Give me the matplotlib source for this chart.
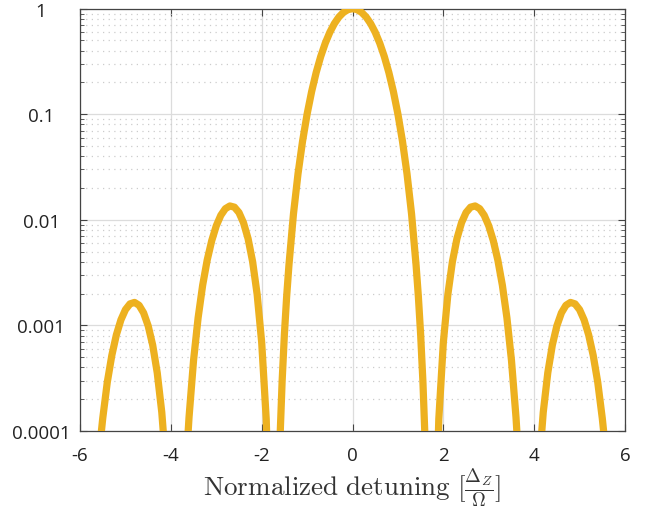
import numpy as np
import matplotlib
matplotlib.use("Agg")
import matplotlib.pyplot as plt
from matplotlib.ticker import LogLocator, FixedLocator, NullFormatter

plt.rcParams["mathtext.fontset"] = "cm"

# values (positive half, curve is symmetric about 0)
main_x = [0.0, 0.1, 0.2, 0.3, 0.4, 0.5, 0.6, 0.7, 0.8, 0.9, 1.0, 1.1, 1.2,
          1.3, 1.4, 1.45, 1.5, 1.55, 1.6, 1.65]
main_y = [1.0, 0.9802, 0.9228, 0.8337, 0.7217, 0.5972, 0.4711, 0.3525, 0.2488,
          0.1642, 0.1002, 0.0556, 0.02731, 0.01139, 0.003714, 0.00188,
          0.000822, 0.0002945, 7.73e-5, 1.08e-5]

lobe1_x = [1.8, 1.9, 2.0, 2.1, 2.2, 2.3, 2.4, 2.5, 2.6, 2.7, 2.8, 2.9, 3.0,
           3.1, 3.2, 3.3, 3.4, 3.5, 3.6, 3.65, 3.7]
lobe1_y = [4.12e-6, 1.295e-4, 6.9e-4, 1.969e-3, 4.024e-3, 6.645e-3, 9.374e-3,
           0.01172, 0.013183, 0.013535, 0.012752, 0.011041, 8.774e-3,
           6.349e-3, 4.154e-3, 2.399e-3, 1.179e-3, 4.68e-4, 1.344e-4, 6.0e-5,
           2.1e-5]

lobe2_x = [4.0, 4.1, 4.2, 4.3, 4.4, 4.5, 4.6, 4.7, 4.8, 4.9, 5.0, 5.1, 5.2,
           5.3, 5.4, 5.5, 5.55, 5.6]
lobe2_y = [4.72e-6, 4.164e-5, 1.505e-4, 3.559e-4, 6.508e-4, 9.913e-4,
           1.3145e-3, 1.551e-3, 1.6511e-3, 1.5986e-3, 1.4094e-3, 1.1273e-3,
           8.128e-4, 5.2e-4, 2.891e-4, 1.317e-4, 8.18e-5, 4.65e-5]

xticks = [-6, -4, -2, 0, 2, 4, 6]
yticks = [1e-4, 1e-3, 1e-2, 1e-1, 1]
yticklabels = ["0.0001", "0.001", "0.01", "0.1", "1"]

line_color = "#EDB120"

fig = plt.figure(figsize=(6.48, 5.10), dpi=100)
ax = fig.add_axes([0.1235, 0.153, 0.841, 0.828])

# main lobe mirrored into one line, side lobes drawn on both sides
mx = np.array(main_x)
my = np.array(main_y)
ax.plot(np.concatenate([-mx[::-1], mx[1:]]), np.concatenate([my[::-1], my[1:]]),
        color=line_color, lw=5.2, solid_capstyle="round", zorder=3)
for xs, ys in [(lobe1_x, lobe1_y), (lobe2_x, lobe2_y)]:
    xs = np.array(xs)
    ax.plot(-xs, ys, color=line_color, lw=5.2, solid_capstyle="round", zorder=3)
    ax.plot(xs, ys, color=line_color, lw=5.2, solid_capstyle="round", zorder=3)

ax.set_yscale("log")
ax.set_xlim(-6, 6)
ax.set_ylim(1e-4, 1)

ax.xaxis.set_major_locator(FixedLocator(xticks))
ax.set_xticklabels([str(t) for t in xticks])
ax.yaxis.set_major_locator(FixedLocator(yticks))
ax.set_yticklabels(yticklabels)
ax.yaxis.set_minor_locator(LogLocator(base=10, subs=np.arange(2, 10)))
ax.yaxis.set_minor_formatter(NullFormatter())

ax.grid(which="major", color="#dcdcdc", lw=0.9, ls="-")
ax.grid(which="minor", axis="y", color="#cccccc", lw=0.9, ls=(0, (1, 3.5)))
ax.set_axisbelow(True)

for s in ax.spines.values():
    s.set_color("#444444")
    s.set_linewidth(0.9)

ax.tick_params(which="both", direction="in", top=True, right=True, color="#444444")
ax.tick_params(which="major", length=5)
ax.tick_params(which="minor", length=3)
ax.tick_params(axis="y", which="major", pad=28, labelsize=13.5, labelcolor="#222222")
ax.tick_params(axis="x", which="major", pad=11, labelsize=13.5, labelcolor="#222222")
for lab in ax.get_yticklabels():
    lab.set_horizontalalignment("center")
    lab.set_fontfamily("Open Sans")
for lab in ax.get_xticklabels():
    lab.set_fontfamily("Open Sans")

ax.set_xlabel(r"$\mathrm{Normalized\ detuning}\ [\frac{\Delta_Z}{\Omega}]$",
              fontsize=19.5, labelpad=1, color="#333333")

fig.savefig("out.png", dpi=100)
